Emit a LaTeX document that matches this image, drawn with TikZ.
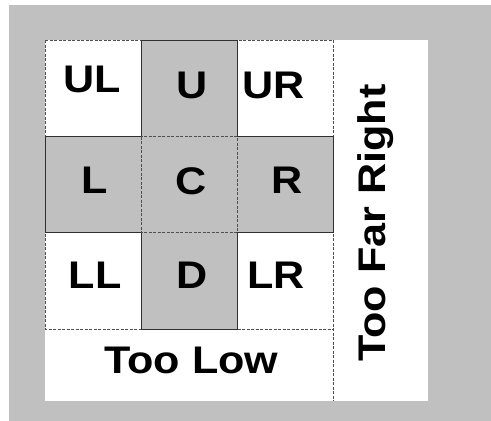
\documentclass[tikz,border=0pt]{standalone}
\usepackage{fontspec}
\setmainfont{Liberation Sans}[FakeStretch=1.12]
\definecolor{bggray}{HTML}{C0C0C0}
\definecolor{edgedark}{HTML}{303030}
\definecolor{dashgray}{HTML}{505050}
\begin{document}
\begin{tikzpicture}[x=1pt,y=-1pt,
  cellbox/.style={inner sep=0pt, outer sep=0pt, minimum width=96pt, minimum height=96pt, draw=none},
  grayfill/.style={cellbox, fill=bggray},
  whitefill/.style={cellbox, fill=white},
  lbl/.style={inner sep=0pt, anchor=base, font=\fontsize{38.5}{40}\selectfont\bfseries},
  solidedge/.style={draw=edgedark, line width=0.9pt},
  dashedge/.style={draw=dashgray, line width=0.8pt, dash pattern=on 3pt off 1.5pt}]
\useasboundingbox (0,0) rectangle (491,421);
\fill[white] (0,0) rectangle (491,421);
\fill[bggray] (9,5) rectangle (491,421);
% strips
\node[inner sep=0pt, outer sep=0pt, minimum width=288pt, minimum height=72pt, fill=white] (low) at (189,365) {};
\node[inner sep=0pt, outer sep=0pt, minimum width=95pt, minimum height=361pt, fill=white] (right) at (380.5,220.5) {};
% cells
\node[whitefill] (ul) at (93,88) {};
\node[grayfill]  (u)  at (189,88) {};
\node[whitefill] (ur) at (285,88) {};
\node[grayfill]  (l)  at (93,184.5) {};
\node[grayfill]  (c)  at (189,184.5) {};
\node[grayfill]  (r)  at (285,184.5) {};
\node[whitefill] (ll) at (93,281) {};
\node[grayfill]  (d)  at (189,281) {};
\node[whitefill] (lr) at (285,281) {};
% dashed grid outline and centre cell
\draw[dashedge] (ul.north west) -- (ur.north east) -- (right.south west);
\draw[dashedge] (ul.north west) -- (ll.south west) -- (lr.south east);
\draw[dashedge] (c.north west) rectangle (c.south east);
% solid cross outline
\draw[solidedge] (u.south west) -- (u.north west) -- (u.north east) -- (u.south east);
\draw[solidedge] (l.north east) -- (l.north west) -- (l.south west) -- (l.south east);
\draw[solidedge] (r.north west) -- (r.north east) -- (r.south east) -- (r.south west);
\draw[solidedge] (d.north west) -- (d.south west) -- (d.south east) -- (d.north east);
% labels
\node[lbl] (tul) at (92,92) {UL};
\node[lbl] (tu)  at (192,98) {U};
\node[lbl] (tur) at (274,98) {UR};
\node[lbl] (tl)  at (95,193) {L};
\node[lbl] (tc)  at (191,194) {C};
\node[lbl] (tr)  at (287,193) {R};
\node[lbl] (tll) at (95,288) {LL};
\node[lbl] (td)  at (192,288) {D};
\node[lbl] (tlr) at (276,288) {LR};
\node[lbl] (tlow) at (191.5,373) {Too Low};
\node[lbl, rotate=90] (tright) at (385,223) {Too Far Right};
\end{tikzpicture}
\end{document}
